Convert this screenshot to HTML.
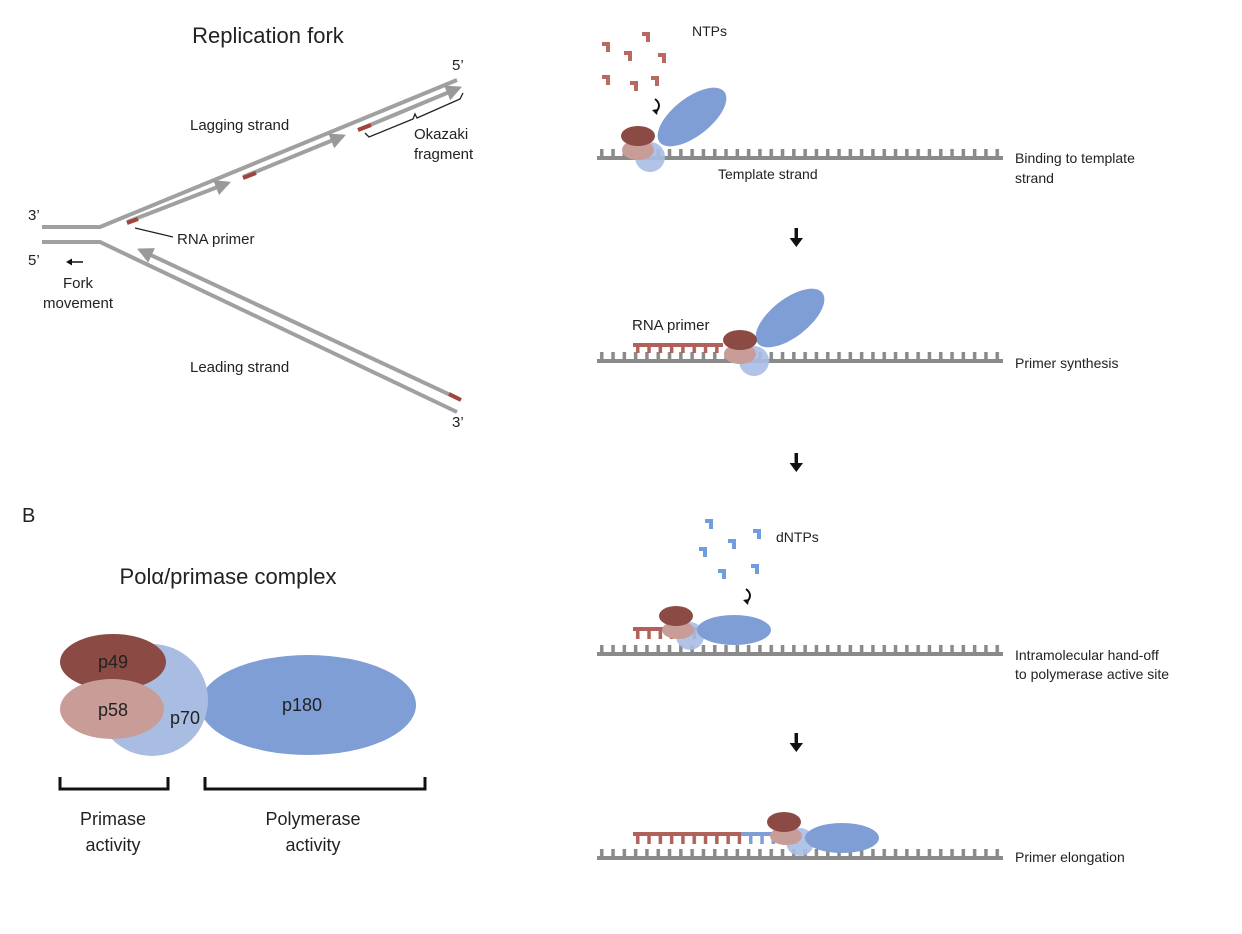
<!DOCTYPE html>
<html><head><meta charset="utf-8"><style>
body{margin:0;background:#fff}
svg{display:block;font-family:"Liberation Sans",Arial,sans-serif}
</style></head><body>
<svg width="1242" height="934" viewBox="0 0 1242 934" xmlns="http://www.w3.org/2000/svg">
<defs>
<pattern id="tk" x="597" y="0" width="11.3" height="20" patternUnits="userSpaceOnUse"><rect x="3" y="0" width="3.5" height="20" fill="#8a8a8a"/></pattern>
<pattern id="rtk" x="633" y="0" width="11.3" height="20" patternUnits="userSpaceOnUse"><rect x="3" y="0" width="3.5" height="20" fill="#b0615a"/></pattern>
<pattern id="btk" x="633" y="0" width="11.3" height="20" patternUnits="userSpaceOnUse"><rect x="3" y="0" width="3.5" height="20" fill="#7f9ed6"/></pattern>
<marker id="ga" viewBox="0 0 10 10" refX="8" refY="5" markerWidth="4" markerHeight="4" orient="auto"><path d="M0,0L10,5L0,10z" fill="#999"/></marker>
</defs>

<!-- Panel A -->
<text x="268" y="43" font-size="22" text-anchor="middle" fill="#222">Replication fork</text>
<g stroke="#a0a0a0" stroke-width="4" fill="none">
<polyline points="42,227 100,227 457,80"/>
<polyline points="42,242 100,242 457,412"/>
<line x1="127" y1="222" x2="228" y2="183" marker-end="url(#ga)"/>
<line x1="243" y1="177" x2="343" y2="136" marker-end="url(#ga)"/>
<line x1="358" y1="130" x2="459" y2="88" marker-end="url(#ga)"/>
<line x1="459" y1="399" x2="140" y2="250" marker-end="url(#ga)"/>
</g>
<g stroke="#a0443c" stroke-width="4">
<line x1="127" y1="223" x2="138" y2="219"/>
<line x1="243" y1="178" x2="256" y2="173"/>
<line x1="358" y1="130" x2="371" y2="125"/>
<line x1="449" y1="394" x2="461" y2="400"/>
</g>
<text x="28" y="220" font-size="15" fill="#222">3’</text>
<text x="28" y="265" font-size="15" fill="#222">5’</text>
<text x="452" y="70" font-size="15" fill="#222">5’</text>
<text x="452" y="427" font-size="15" fill="#222">3’</text>
<line x1="70" y1="262" x2="83" y2="262" stroke="#111" stroke-width="1.5"/><path d="M66,262l6,-3.5v7z" fill="#111"/>
<text x="78" y="288" font-size="15" text-anchor="middle" fill="#222">Fork</text>
<text x="78" y="308" font-size="15" text-anchor="middle" fill="#222">movement</text>
<line x1="135" y1="228" x2="173" y2="237" stroke="#222" stroke-width="1.2"/>
<text x="177" y="244" font-size="15" fill="#222">RNA primer</text>
<text x="190" y="130" font-size="15" fill="#222">Lagging strand</text>
<text x="190" y="372" font-size="15" fill="#222">Leading strand</text>
<path d="M365,133 L369,137 L413,119 L415,114 L417,118 L460,99 L463,93" stroke="#222" stroke-width="1.3" fill="none"/>
<text x="414" y="139" font-size="15" fill="#222">Okazaki</text>
<text x="414" y="159" font-size="15" fill="#222">fragment</text>

<!-- Panel B -->
<text x="22" y="522" font-size="20" fill="#222">B</text>
<text x="228" y="584" font-size="22" text-anchor="middle" fill="#222">Polα/primase complex</text>
<ellipse cx="308" cy="705" rx="108" ry="50" fill="#7f9ed6"/>
<circle cx="152" cy="700" r="56" fill="#a9bde3"/>
<ellipse cx="113" cy="662" rx="53" ry="28" fill="#8b4a43"/>
<ellipse cx="112" cy="709" rx="52" ry="30" fill="#c99d97"/>
<g font-size="18" fill="#222" text-anchor="middle">
<text x="113" y="668">p49</text><text x="113" y="716">p58</text><text x="185" y="724">p70</text><text x="302" y="711">p180</text>
</g>
<path d="M60,777V789H168V777M205,777V789H425V777" stroke="#111" stroke-width="3" fill="none"/>
<g font-size="18" fill="#222" text-anchor="middle">
<text x="113" y="825">Primase</text><text x="113" y="851">activity</text>
<text x="313" y="825">Polymerase</text><text x="313" y="851">activity</text>
</g>

<!-- Right panel strands -->
<g>
<rect x="597" y="149" width="406" height="9" fill="url(#tk)"/><rect x="597" y="156" width="406" height="4" fill="#8a8a8a"/>
<rect x="597" y="352" width="406" height="9" fill="url(#tk)"/><rect x="597" y="359" width="406" height="4" fill="#8a8a8a"/>
<rect x="597" y="645" width="406" height="9" fill="url(#tk)"/><rect x="597" y="652" width="406" height="4" fill="#8a8a8a"/>
<rect x="597" y="849" width="406" height="9" fill="url(#tk)"/><rect x="597" y="856" width="406" height="4" fill="#8a8a8a"/>
</g>
<g font-size="14" fill="#222">
<text x="1015" y="163">Binding to template</text><text x="1015" y="183">strand</text>
<text x="1015" y="368">Primer synthesis</text>
<text x="1015" y="660">Intramolecular hand-off</text><text x="1015" y="679">to polymerase active site</text>
<text x="1015" y="862">Primer elongation</text>
<text x="718" y="179">Template strand</text>
<text x="692" y="36">NTPs</text>
<text x="776" y="542">dNTPs</text>
<text x="632" y="330" font-size="15">RNA primer</text>
</g>
<!-- down arrows -->
<g fill="#111">
<path d="M794.5,228h3.5v10h5l-6.7,9l-6.7,-9h5z"/>
<path d="M794.5,453h3.5v10h5l-6.7,9l-6.7,-9h5z"/>
<path d="M794.5,733h3.5v10h5l-6.7,9l-6.7,-9h5z"/>
</g>
<!-- NTP marks -->
<g fill="#b86a62">
<path d="M642,32h8v10h-4v-6h-4z"/><path d="M602,42h8v10h-4v-6h-4z"/><path d="M624,51h8v10h-4v-6h-4z"/>
<path d="M658,53h8v10h-4v-6h-4z"/><path d="M602,75h8v10h-4v-6h-4z"/><path d="M630,81h8v10h-4v-6h-4z"/><path d="M651,76h8v10h-4v-6h-4z"/>
</g>
<g fill="#6f9de0">
<path d="M705,519h8v10h-4v-6h-4z"/><path d="M753,529h8v10h-4v-6h-4z"/><path d="M728,539h8v10h-4v-6h-4z"/>
<path d="M699,547h8v10h-4v-6h-4z"/><path d="M751,564h8v10h-4v-6h-4z"/><path d="M718,569h8v10h-4v-6h-4z"/>
</g>
<path d="M655,99q8,6 0,14" stroke="#111" stroke-width="2" fill="none"/><path d="M652,110l5,5l1,-6z" fill="#111"/>
<path d="M746,589q8,6 0,14" stroke="#111" stroke-width="2" fill="none"/><path d="M743,600l5,5l1,-6z" fill="#111"/>

<!-- step1 protein -->
<ellipse cx="692" cy="117" rx="41" ry="19" transform="rotate(-38 692 117)" fill="#7f9ed6"/>
<circle cx="650" cy="157" r="15" fill="#a9bde3" opacity="0.9"/>
<ellipse cx="638" cy="150" rx="16" ry="10" fill="#c99d97"/>
<ellipse cx="638" cy="136" rx="17" ry="10" fill="#8b4a43"/>

<!-- step2 -->
<rect x="633" y="343" width="90" height="4" fill="#b0615a"/><rect x="633" y="345" width="90" height="8" fill="url(#rtk)"/>
<ellipse cx="790" cy="318" rx="41" ry="19" transform="rotate(-38 790 318)" fill="#7f9ed6"/>
<circle cx="754" cy="361" r="15" fill="#a9bde3" opacity="0.9"/>
<ellipse cx="740" cy="354" rx="16" ry="10" fill="#c99d97"/>
<ellipse cx="740" cy="340" rx="17" ry="10" fill="#8b4a43"/>

<!-- step3 -->
<rect x="633" y="627" width="70" height="4" fill="#b0615a"/><rect x="633" y="629" width="70" height="10" fill="url(#rtk)"/>
<circle cx="690" cy="636" r="14" fill="#a9bde3" opacity="0.9"/>
<ellipse cx="678" cy="630" rx="16" ry="9" fill="#c99d97"/>
<ellipse cx="676" cy="616" rx="17" ry="10" fill="#8b4a43"/>
<ellipse cx="734" cy="630" rx="37" ry="15" fill="#7f9ed6"/>

<!-- step4 -->
<rect x="633" y="832" width="108" height="4" fill="#b0615a"/><rect x="633" y="834" width="108" height="10" fill="url(#rtk)"/>
<rect x="741" y="832" width="60" height="4" fill="#7f9ed6"/><rect x="741" y="834" width="60" height="10" fill="url(#btk)"/>
<circle cx="800" cy="842" r="14" fill="#a9bde3" opacity="0.9"/>
<ellipse cx="786" cy="836" rx="16" ry="9" fill="#c99d97"/>
<ellipse cx="784" cy="822" rx="17" ry="10" fill="#8b4a43"/>
<ellipse cx="842" cy="838" rx="37" ry="15" fill="#7f9ed6"/>
</svg>
</body></html>
